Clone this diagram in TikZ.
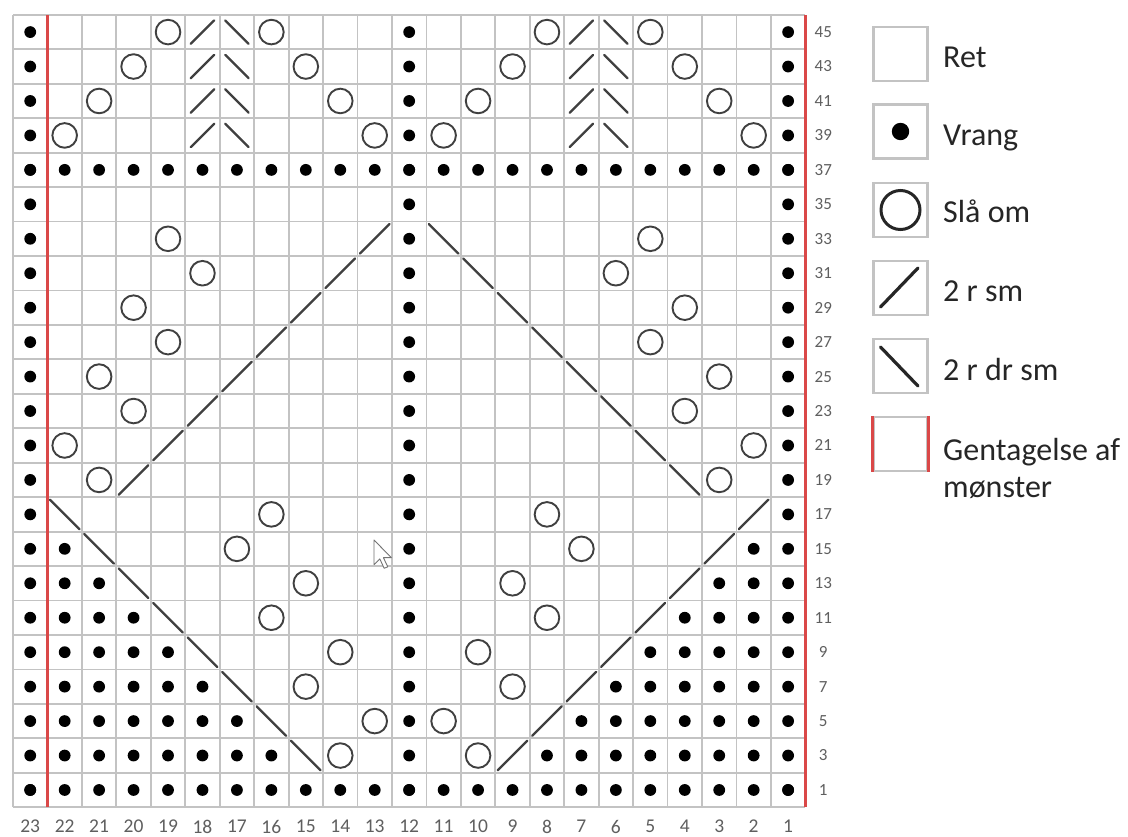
\documentclass[tikz,border=0pt]{standalone}
\usepackage{fontspec}
\setmainfont{Carlito}
\definecolor{gridgray}{RGB}{195,195,195}
\definecolor{symgray}{RGB}{64,64,64}
\definecolor{repred}{RGB}{218,72,72}
\definecolor{labgray}{RGB}{95,95,95}
\definecolor{legtext}{RGB}{38,38,38}
\tikzset{
  gridline/.style={draw=gridgray, line width=1.8pt},
  purldot/.style={fill=black},
  yostyle/.style={draw=symgray, line width=1.9pt},
  decstyle/.style={draw=symgray, line width=2.3pt, line cap=round},
  repline/.style={draw=repred, line width=2.4pt},
  rowlab/.style={font=\fontsize{17}{17}\selectfont, text=labgray, inner sep=0pt},
  collab/.style={font=\fontsize{19.5}{19.5}\selectfont, text=labgray, inner sep=0pt},
  legbox/.style={draw=gridgray, line width=2.5pt, fill=white, minimum size=54pt, inner sep=0pt},
  legtxt/.style={font=\fontsize{32}{32}\selectfont, text=legtext, anchor=base west, inner sep=0pt},
  legsym/.style={draw=black!85, line width=3.2pt, line cap=round},
}
\newcommand\kPurl[2]{\fill[purldot] ({23-(#1)+0.5},{((#2)-1)/2+0.5}) circle[radius=5.9pt];}
\newcommand\kYo[2]{\draw[yostyle] ({23-(#1)+0.5},{((#2)-1)/2+0.5}) circle[radius=12.3pt];}
\newcommand\kRt[3]{\draw[decstyle] ({23-(#1)+#3},{((#2)-1)/2+#3}) -- ({23-(#1)+1-#3},{((#2)-1)/2+1-#3});}
\newcommand\kLt[3]{\draw[decstyle] ({23-(#1)+#3},{((#2)-1)/2+1-#3}) -- ({23-(#1)+1-#3},{((#2)-1)/2+#3});}
\begin{document}
\begin{tikzpicture}[x=1pt,y=-1pt]
\useasboundingbox (0,0) rectangle (1128,836);
\fill[white] (0,0) rectangle (1128,836);
\begin{scope}[shift={(13,807.2)}, x=34.45pt, y=34.45pt]
  % grid
  \fill[white] (0,0) rectangle (23,23);
  \foreach \i in {0,...,23} {
    \draw[gridline] (\i,0) -- (\i,23);
    \draw[gridline] (0,\i) -- (23,\i);
  }
  % purl stitches
  \foreach \n in {1,3,...,45} { \kPurl{23}{\n} \kPurl{12}{\n} \kPurl{1}{\n} }
  \foreach \c in {1,...,23} { \kPurl{\c}{1} \kPurl{\c}{37} }
  \foreach \n in {3,5,...,15} {
    \pgfmathtruncatemacro\kk{(17-\n)/2}
    \foreach \m in {1,...,\kk} { \kPurl{23-\m}{\n} \kPurl{1+\m}{\n} }
  }
  % yarn overs
  \foreach \c/\n in {19/45,16/45,8/45,5/45, 20/43,15/43,9/43,4/43,
                     21/41,14/41,10/41,3/41, 22/39,13/39,11/39,2/39,
                     19/33,5/33, 18/31,6/31, 20/29,4/29, 19/27,5/27,
                     21/25,3/25, 20/23,4/23, 22/21,2/21, 21/19,3/19,
                     16/17,8/17, 17/15,7/15, 15/13,9/13, 16/11,8/11,
                     14/9,10/9, 15/7,9/7, 13/5,11/5, 14/3,10/3}
    { \kYo{\c}{\n} }
  % decreases, top
  \foreach \n in {39,41,43,45} { \kRt{18}{\n}{0.16} \kRt{7}{\n}{0.16} \kLt{17}{\n}{0.16} \kLt{6}{\n}{0.16} }
  % decreases, middle diamond
  \foreach \n in {19,21,...,33} {
    \pgfmathtruncatemacro\ca{20-(\n-19)/2}
    \pgfmathtruncatemacro\cb{4+(\n-19)/2}
    \kRt{\ca}{\n}{0.07} \kLt{\cb}{\n}{0.07}
  }
  % decreases, lower
  \foreach \n in {3,5,...,17} {
    \pgfmathtruncatemacro\ca{22-(17-\n)/2}
    \pgfmathtruncatemacro\cb{2+(17-\n)/2}
    \kLt{\ca}{\n}{0.07} \kRt{\cb}{\n}{0.07}
  }
  % repeat lines
  \draw[repline] (1,0) -- (1,23);
  \draw[repline] (23,0) -- (23,23);
  % labels
  \foreach \n in {1,3,...,45} { \node[rowlab] (r\n) at (23.52,{(\n-1)/2+0.5}) {\n}; }
  \foreach \c in {1,...,23} { \node[collab] (c\c) at ({23-\c+0.5},-0.56) {\c}; }
\end{scope}
% cursor
\begin{scope}[shift={(374,540)}, scale=1.45]
  \filldraw[fill=white, draw=black!55, line width=0.9pt, line join=round]
    (0,0) -- (0,17) -- (4,13) -- (7,19.5) -- (9.5,18.5) -- (6.5,12.2) -- (12,12.2) -- cycle;
\end{scope}
% legend
\node[legbox] (lb1) at (900.5,54) {};
\node[legbox] (lb2) at (900.5,131.5) {};
\node[legbox] (lb3) at (900.5,210) {};
\node[legbox] (lb4) at (900.5,288) {};
\node[legbox] (lb5) at (900.5,366) {};
\node[legbox] (lb6) at (900.5,444) {};
\draw[repred, line width=3.2pt] (lb6.north west) -- (lb6.south west);
\draw[repred, line width=3.2pt] (lb6.north east) -- (lb6.south east);
\fill[black] (lb2.center) circle[radius=8.7pt];
\draw[legsym, line width=3pt] (lb3.center) circle[radius=19.5pt];
\draw[legsym] (880.5,307) -- (918,268);
\draw[legsym] (880.5,347) -- (918,386);
\node[legtxt] (t1) at (943,67.5) {Ret};
\node[legtxt] (t2) at (943,145.5) {Vrang};
\node[legtxt] (t3) at (943,222.5) {Slå om};
\node[legtxt] (t4) at (943,301.5) {2 r sm};
\node[legtxt] (t5) at (943,380) {2 r dr sm};
\node[legtxt] (t6) at (943,460) {Gentagelse af};
\node[legtxt] (t7) at (943,497) {mønster};
\end{tikzpicture}
\end{document}
